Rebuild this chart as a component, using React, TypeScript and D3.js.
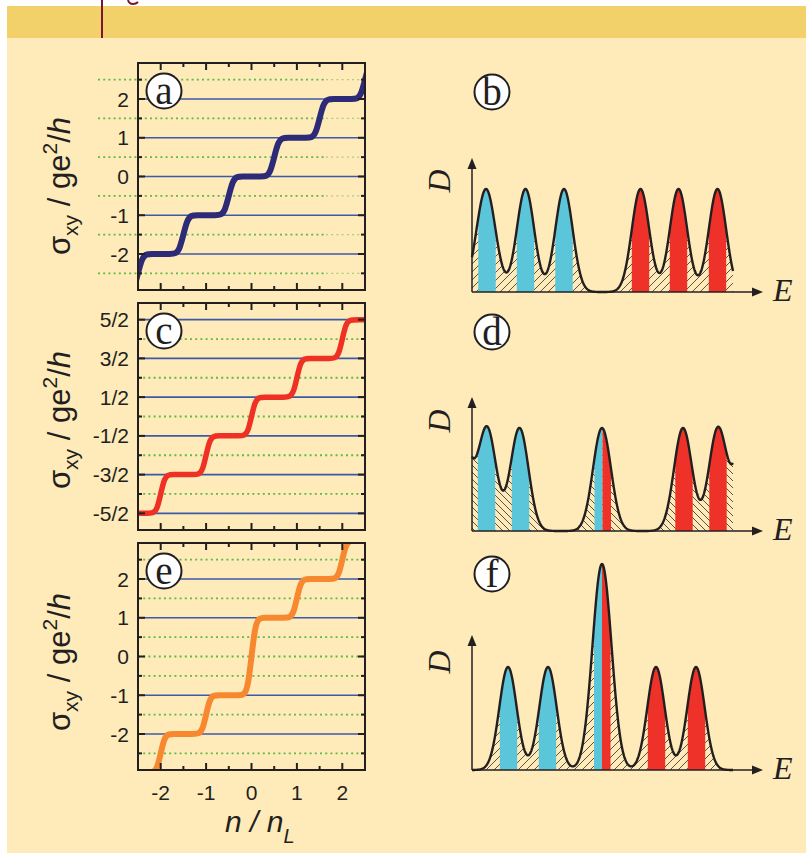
import React from 'react';
import * as d3 from 'd3';

// ---------------- data ----------------
const xTickValues = [-2, -1, 0, 1, 2];
const xTickLabels = ['-2', '-1', '0', '1', '2'];

// panel a (sigma_xy staircase, integer plateaus)
const aTickValues = [2, 1, 0, -1, -2];
const aTickLabels = ['2', '1', '0', '-1', '-2'];
const aBlueLines = [2, 1, 0, -1, -2];
const aGreenLines = [2.5, 1.5, 0.5, -0.5, -1.5, -2.5];
const aStepCenters = [-2.5, -1.5, -0.5, 0.5, 1.5, 2.5];
const aPlateaus = [-3, -2, -1, 0, 1, 2, 3];

// panel c (half-integer plateaus)
const cTickValues = [2.5, 1.5, 0.5, -0.5, -1.5, -2.5];
const cTickLabels = ['5/2', '3/2', '1/2', '-1/2', '-3/2', '-5/2'];
const cBlueLines = [2.5, 1.5, 0.5, -0.5, -1.5, -2.5];
const cGreenLines = [2, 1, 0, -1, -2];
const cStepCenters = [-2, -1, 0, 1, 2];
const cPlateaus = [-2.5, -1.5, -0.5, 0.5, 1.5, 2.5];

// panel e (integer plateaus, double step at zero)
const eTickValues = [2, 1, 0, -1, -2];
const eTickLabels = ['2', '1', '0', '-1', '-2'];
const eBlueLines = [2, 1, -1, -2];
const eGreenLines = [2.5, 1.5, 0.5, 0, -0.5, -1.5, -2.5];
const eStepCenters = [-2, -1, 0, 1, 2];
const ePlateaus = [-3, -2, -1, 1, 2, 3];

// density of states panels (energy in arbitrary units)
const bPeakE = [1.4, 5.35, 9.2, 16.85, 20.65, 24.55];
const bPeakD = [1, 1, 1, 1, 1, 1];
const bPeakW = [0.95, 0.87, 0.87, 0.87, 0.87, 0.87];
const bBlueBands = [1.5, 5.35, 9.2];
const bRedBands = [16.85, 20.65, 24.55];
const bSplit: number[] = [];

const dPeakE = [-1.1, 1.5, 4.75, 13.0, 21.1, 24.6, 27.3];
const dPeakD = [1, 1, 1, 1, 1, 1, 1];
const dPeakW = [0.9, 0.9, 0.9, 0.9, 0.9, 0.9, 0.9];
const dBlueBands = [1.45, 4.85];
const dRedBands = [21.2, 24.6];
const dSplit = [13.05];

const fPeakE = [3.6, 7.6, 13.0, 18.4, 22.4];
const fPeakD = [1, 1, 2, 1, 1];
const fPeakW = [0.87, 0.87, 0.95, 0.87, 0.87];
const fBlueBands = [3.65, 7.55];
const fRedBands = [18.45, 22.45];
const fSplit = [13.0];

// ---------------- styles ----------------
const INK = '#231F20';
const BLUE_LINE = '#3D5AA8';
const GREEN = '#5DBB46';
const CYAN = '#5BC6DA';
const RED = '#EE3229';
const SANS = 'Liberation Sans, Arial, sans-serif';
const SERIF = 'Liberation Serif, Times New Roman, serif';

const xN = d3.scaleLinear().domain([-2.5, 2.5]).range([138, 365]);
const BOX = 227;

// control points of a smoothed staircase (outer/inner offsets around each step)
function stairPoints(centers: number[], plateaus: number[], outer: number, inner: number): [number, number][] {
  const pts: [number, number][] = [[-3.2, plateaus[0]]];
  centers.forEach((c, i) => {
    const lo = plateaus[i];
    const hi = plateaus[i + 1];
    pts.push([c - outer, lo], [c - inner, lo], [c + inner, hi], [c + outer, hi]);
  });
  pts.push([3.2, plateaus[plateaus.length - 1]]);
  return pts;
}

function Circle({ cx, cy, letter }: { cx: number; cy: number; letter: string }) {
  return (
    <g>
      <circle cx={cx} cy={cy} r={17.5} fill="#fff" stroke={INK} strokeWidth={2} />
      <text x={cx} y={cy + 13} textAnchor="middle" fontFamily={SERIF} fontSize={39} fill={INK}>
        {letter}
      </text>
    </g>
  );
}

function YTitle({ cy }: { cy: number }) {
  return (
    <text transform={`translate(70,${cy}) rotate(-90)`} textAnchor="middle" fontFamily={SANS} fontSize={31} fill={INK}>
      σ<tspan fontSize={21} dy={8}>xy</tspan>
      <tspan dy={-8}>{' / ge'}</tspan>
      <tspan fontSize={21} dy={-13}>2</tspan>
      <tspan dy={13}>/</tspan>
      <tspan fontStyle="italic">h</tspan>
    </text>
  );
}

type StairProps = {
  id: string;
  top: number;
  tickValues: number[];
  tickLabels: string[];
  blue: number[];
  green: number[];
  centers: number[];
  plateaus: number[];
  outer: number;
  inner: number;
  color: string;
  width: number;
  letter: string;
  extendGreen?: boolean;
  titleY: number;
};

function StairPanel(p: StairProps) {
  const y = d3.scaleLinear().domain([-2.93, 2.93]).range([p.top + BOX, p.top]);
  const line = d3
    .line<[number, number]>()
    .x((d) => xN(d[0]))
    .y((d) => y(d[1]))
    .curve(d3.curveBasis);
  const pts = stairPoints(p.centers, p.plateaus, p.outer, p.inner);
  const halfSteps = d3.range(-2.5, 2.5001, 0.5);
  const left = 138;
  const right = 365;
  const bottom = p.top + BOX;
  return (
    <g>
      <defs>
        <clipPath id={`clip-${p.id}`}>
          <rect x={left} y={p.top} width={right - left} height={BOX} />
        </clipPath>
      </defs>
      {p.blue.map((v) => (
        <line key={`b${v}`} x1={left} x2={right} y1={y(v)} y2={y(v)} stroke={BLUE_LINE} strokeWidth={1.6} />
      ))}
      {p.green.map((v) =>
        p.extendGreen ? (
          <g key={`g${v}`}>
            <line x1={98} x2={326} y1={y(v)} y2={y(v)} stroke={GREEN} strokeWidth={1.8} strokeDasharray="2,3.2" />
            <line x1={326} x2={364} y1={y(v)} y2={y(v)} stroke={GREEN} strokeOpacity={0.55} strokeWidth={1.4} strokeDasharray="2,3.2" />
          </g>
        ) : (
          <line key={`g${v}`} x1={left} x2={right} y1={y(v)} y2={y(v)} stroke={GREEN} strokeWidth={1.8} strokeDasharray="2,3.2" />
        )
      )}
      <path d={line(pts) || ''} fill="none" stroke={p.color} strokeWidth={p.width} clipPath={`url(#clip-${p.id})`} />
      <rect x={left} y={p.top} width={right - left} height={BOX} fill="none" stroke={INK} strokeWidth={2} />
      {halfSteps.map((v) => {
        const len = Number.isInteger(v) ? 7 : 4;
        return (
          <g key={`xt${v}`} stroke={INK} strokeWidth={2}>
            <line x1={xN(v)} x2={xN(v)} y1={p.top} y2={p.top + len} />
            <line x1={xN(v)} x2={xN(v)} y1={bottom} y2={bottom - len} />
          </g>
        );
      })}
      {halfSteps.map((v) => {
        const len = p.tickValues.includes(v) ? 7 : 4;
        return (
          <g key={`yt${v}`} stroke={INK} strokeWidth={2}>
            <line x1={left} x2={left + len} y1={y(v)} y2={y(v)} />
            <line x1={right} x2={right - len} y1={y(v)} y2={y(v)} />
          </g>
        );
      })}
      {p.tickValues.map((v, i) => (
        <text key={`yl${v}`} x={129} y={y(v)} dy="0.36em" textAnchor="end" fontFamily={SANS} fontSize={21} fill={INK}>
          {p.tickLabels[i]}
        </text>
      ))}
      <YTitle cy={p.titleY} />
      <Circle cx={164} cy={p.top + 28} letter={p.letter} />
    </g>
  );
}

const ePx = d3.scaleLinear().domain([0, 29.1]).range([472, 763]);
const E_END = 26.1;

type DosProps = {
  id: string;
  base: number;
  axisTop: number;
  peakE: number[];
  peakD: number[];
  peakW: number[];
  blueBands: number[];
  redBands: number[];
  split: number[];
  hatch: 'fwd' | 'back';
  letter: string;
  circleY: number;
  dY: number;
};

function DosPanel(p: DosProps) {
  const yD = d3.scaleLinear().domain([0, 1]).range([p.base, p.base - 103]);
  const dens = (e: number) =>
    p.peakE.reduce((s, c, i) => s + p.peakD[i] * Math.exp(-((e - c) ** 2) / (2 * p.peakW[i] ** 2)), 0);
  const sample = (a: number, b: number, step: number): [number, number][] => {
    const arr = d3.range(a, b, step).map((e) => [e, dens(e)] as [number, number]);
    arr.push([b, dens(b)]);
    return arr;
  };
  const full = sample(0, E_END, 0.04);
  const area = d3
    .area<[number, number]>()
    .x((d) => ePx(d[0]))
    .y0(p.base)
    .y1((d) => yD(d[1]));
  const line = d3
    .line<[number, number]>()
    .x((d) => ePx(d[0]))
    .y((d) => yD(d[1]));
  const hw = 0.87;
  const bands: { a: number; b: number; color: string }[] = [];
  p.blueBands.forEach((c) => bands.push({ a: c - hw, b: c + hw, color: CYAN }));
  p.redBands.forEach((c) => bands.push({ a: c - hw, b: c + hw, color: RED }));
  p.split.forEach((c) => {
    bands.push({ a: c - 0.8, b: c, color: CYAN });
    bands.push({ a: c, b: c + 0.85, color: RED });
  });
  const pid = `hatch-${p.id}`;
  return (
    <g>
      <defs>
        <pattern id={pid} patternUnits="userSpaceOnUse" width={p.hatch === 'fwd' ? 8 : 7} height={p.hatch === 'fwd' ? 8 : 7}>
          {p.hatch === 'fwd' ? (
            <g stroke={INK} strokeWidth={0.75}>
              <line x1={0} y1={8} x2={8} y2={0} />
              <line x1={-2} y1={2} x2={2} y2={-2} />
              <line x1={6} y1={10} x2={10} y2={6} />
            </g>
          ) : (
            <g stroke={INK} strokeWidth={0.75}>
              <line x1={0} y1={0} x2={7} y2={7} />
              <line x1={-2} y1={5} x2={2} y2={9} />
              <line x1={5} y1={-2} x2={9} y2={2} />
            </g>
          )}
        </pattern>
      </defs>
      <path d={area(full) || ''} fill={`url(#${pid})`} stroke="none" />
      {bands.map((b, i) => (
        <path key={i} d={area(sample(b.a, b.b, 0.02)) || ''} fill={b.color} stroke="none" />
      ))}
      <path d={line(full) || ''} fill="none" stroke={INK} strokeWidth={2.4} strokeLinejoin="round" />
      <line x1={472} x2={756} y1={p.base} y2={p.base} stroke={INK} strokeWidth={1.5} />
      <polygon points={`763,${p.base} 752,${p.base - 4.5} 752,${p.base + 4.5}`} fill={INK} />
      <line x1={472} x2={472} y1={p.base} y2={p.axisTop + 8} stroke={INK} strokeWidth={1.5} />
      <polygon points={`472,${p.axisTop} ${467.5},${p.axisTop + 11} ${476.5},${p.axisTop + 11}`} fill={INK} />
      <text x={773} y={p.base + 9} fontFamily={SERIF} fontStyle="italic" fontSize={32} fill={INK}>
        E
      </text>
      <text transform={`translate(450,${p.dY}) rotate(-90)`} textAnchor="middle" fontFamily={SERIF} fontStyle="italic" fontSize={32} fill={INK}>
        D
      </text>
      <Circle cx={492} cy={p.circleY} letter={p.letter} />
    </g>
  );
}

export default function App() {
  return (
    <div style={{ position: 'absolute', left: 0, top: 0 }}>
      <svg width={806} height={853} style={{ display: 'block' }}>
        <rect x={0} y={0} width={806} height={853} fill="#fff" />
        <rect x={7} y={6} width={799} height={32} fill="#F2D16B" />
        <rect x={7} y={38} width={799} height={815} fill="#FEEBB9" />
        <line x1={102} x2={102} y1={0} y2={38} stroke="#7A1538" strokeWidth={2} />
        <path d="M128,0 Q129,4 133,4 Q136,4 138,2" fill="none" stroke="#7A1538" strokeWidth={2} />

        <StairPanel
          id="a"
          top={63}
          tickValues={aTickValues}
          tickLabels={aTickLabels}
          blue={aBlueLines}
          green={aGreenLines}
          centers={aStepCenters}
          plateaus={aPlateaus}
          outer={0.26}
          inner={0.08}
          color="#2D2A78"
          width={6}
          letter="a"
          extendGreen
          titleY={186}
        />
        <StairPanel
          id="c"
          top={303}
          tickValues={cTickValues}
          tickLabels={cTickLabels}
          blue={cBlueLines}
          green={cGreenLines}
          centers={cStepCenters}
          plateaus={cPlateaus}
          outer={0.24}
          inner={0.07}
          color="#EE3124"
          width={5.5}
          letter="c"
          titleY={420}
        />
        <StairPanel
          id="e"
          top={543}
          tickValues={eTickValues}
          tickLabels={eTickLabels}
          blue={eBlueLines}
          green={eGreenLines}
          centers={eStepCenters}
          plateaus={ePlateaus}
          outer={0.24}
          inner={0.07}
          color="#F7882F"
          width={6}
          letter="e"
          titleY={662}
        />
        {xTickValues.map((v, i) => (
          <text key={v} x={xN(v)} y={800} textAnchor="middle" fontFamily={SANS} fontSize={21} fill={INK}>
            {xTickLabels[i]}
          </text>
        ))}
        <text x={225} y={832} fontFamily={SANS} fontStyle="italic" fontSize={30} fill={INK}>
          {'n / n'}
          <tspan fontSize={20} dy={11}>L</tspan>
        </text>

        <DosPanel
          id="b"
          base={292}
          axisTop={158}
          peakE={bPeakE}
          peakD={bPeakD}
          peakW={bPeakW}
          blueBands={bBlueBands}
          redBands={bRedBands}
          split={bSplit}
          hatch="fwd"
          letter="b"
          circleY={92}
          dY={181}
        />
        <DosPanel
          id="d"
          base={531}
          axisTop={397}
          peakE={dPeakE}
          peakD={dPeakD}
          peakW={dPeakW}
          blueBands={dBlueBands}
          redBands={dRedBands}
          split={dSplit}
          hatch="back"
          letter="d"
          circleY={332}
          dY={421}
        />
        <DosPanel
          id="f"
          base={770}
          axisTop={635}
          peakE={fPeakE}
          peakD={fPeakD}
          peakW={fPeakW}
          blueBands={fBlueBands}
          redBands={fRedBands}
          split={fSplit}
          hatch="fwd"
          letter="f"
          circleY={574}
          dY={662}
        />
      </svg>
    </div>
  );
}
